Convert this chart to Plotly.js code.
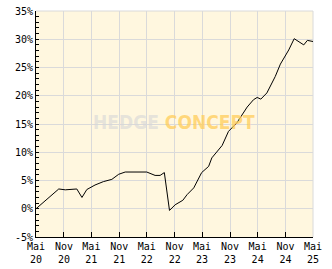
<!DOCTYPE html>
<html>
<head>
<meta charset="utf-8">
<script src="https://cdn.plot.ly/plotly-3.0.1.min.js"></script>
<style>html,body{margin:0;padding:0;background:#fff;}#chart{width:332px;height:269px;}</style>
</head>
<body>
<div id="chart"></div>
<script>
var dates = ["2020-05-01","2020-09-28","2020-11-10","2021-01-25","2021-02-28","2021-04-01","2021-05-25","2021-07-19","2021-09-13","2021-10-28","2021-12-10","2022-05-01","2022-06-25","2022-07-28","2022-08-25","2022-09-28","2022-11-04","2022-12-07","2022-12-25","2023-01-22","2023-03-07","2023-04-28","2023-06-13","2023-07-04","2023-09-10","2023-10-22","2023-12-16","2024-02-22","2024-04-04","2024-04-28","2024-05-22","2024-07-01","2024-08-25","2024-09-28","2024-11-22","2024-12-28","2025-01-28","2025-03-01","2025-03-25","2025-05-01"];
var values = [0.0,3.5,3.35,3.5,2.0,3.4,4.2,4.8,5.2,6.1,6.5,6.5,5.9,5.9,6.4,-0.3,0.7,1.2,1.5,2.5,3.7,6.4,7.5,9.0,11.2,13.7,15.2,18.0,19.3,19.7,19.4,20.5,23.4,25.6,28.1,30.1,29.5,29.0,29.8,29.6];
var tickDates = ["2020-05-01","2020-11-01","2021-05-01","2021-11-01","2022-05-01","2022-11-01","2023-05-01","2023-11-01","2024-05-01","2024-11-01","2025-05-01"];
var tickLabels = ["Mai<br>20","Nov<br>20","Mai<br>21","Nov<br>21","Mai<br>22","Nov<br>22","Mai<br>23","Nov<br>23","Mai<br>24","Nov<br>24","Mai<br>25"];
var yTicks = [-5,0,5,10,15,20,25,30,35];
var yLabels = ["-5%","0%","5%","10%","15%","20%","25%","30%","35%"];

var font = {family: "DejaVu Sans Mono, monospace", size: 10, color: "#000"};
var trace = {x: dates, y: values, type: "scatter", mode: "lines",
  line: {color: "#000", width: 1}, hoverinfo: "skip"};
var layout = {
  width: 332, height: 269,
  margin: {l: 36, r: 19, t: 11, b: 32},
  paper_bgcolor: "#ffffff", plot_bgcolor: "#fff7df",
  showlegend: false, font: font,
  xaxis: {type: "date", range: ["2020-05-01","2025-05-01"], tickmode: "array",
    tickvals: tickDates, ticktext: tickLabels, ticks: "inside", ticklen: 5,
    tickcolor: "#000", showgrid: true, gridcolor: "#dadada", gridwidth: 1,
    showline: true, linecolor: "#000", linewidth: 1, zeroline: false,
    tickfont: font, fixedrange: true},
  yaxis: {range: [-5, 35], tickmode: "array", tickvals: yTicks, ticktext: yLabels,
    ticks: "inside", ticklen: 3, tickcolor: "#000", showgrid: true,
    gridcolor: "#dadada", gridwidth: 1, showline: true, linecolor: "#000",
    linewidth: 1, zeroline: false, tickfont: font, fixedrange: true,
    minor: {ticks: "inside", ticklen: 3, dtick: 1, tickcolor: "#000", showgrid: false}},
  shapes: [
    {type: "line", xref: "paper", yref: "paper", x0: 0, x1: 1, y0: 1, y1: 1, line: {color: "#dadada", width: 1}, layer: "below"},
    {type: "line", xref: "paper", yref: "paper", x0: 1, x1: 1, y0: 0, y1: 1, line: {color: "#dadada", width: 1}, layer: "below"}
  ],
  annotations: [{
    xref: "paper", yref: "paper", x: 0.497, y: 0.51, xanchor: "center", yanchor: "middle",
    showarrow: false,
    text: '<span style="color:rgba(215,215,215,0.65)">HEDGE</span> <span style="color:rgba(255,205,90,0.75)">CONCEPT</span>',
    font: {family: "DejaVu Sans Condensed", size: 19, weight: 700}
  }]
};
Plotly.newPlot("chart", [trace], layout, {staticPlot: true, displayModeBar: false});
</script>
</body>
</html>
